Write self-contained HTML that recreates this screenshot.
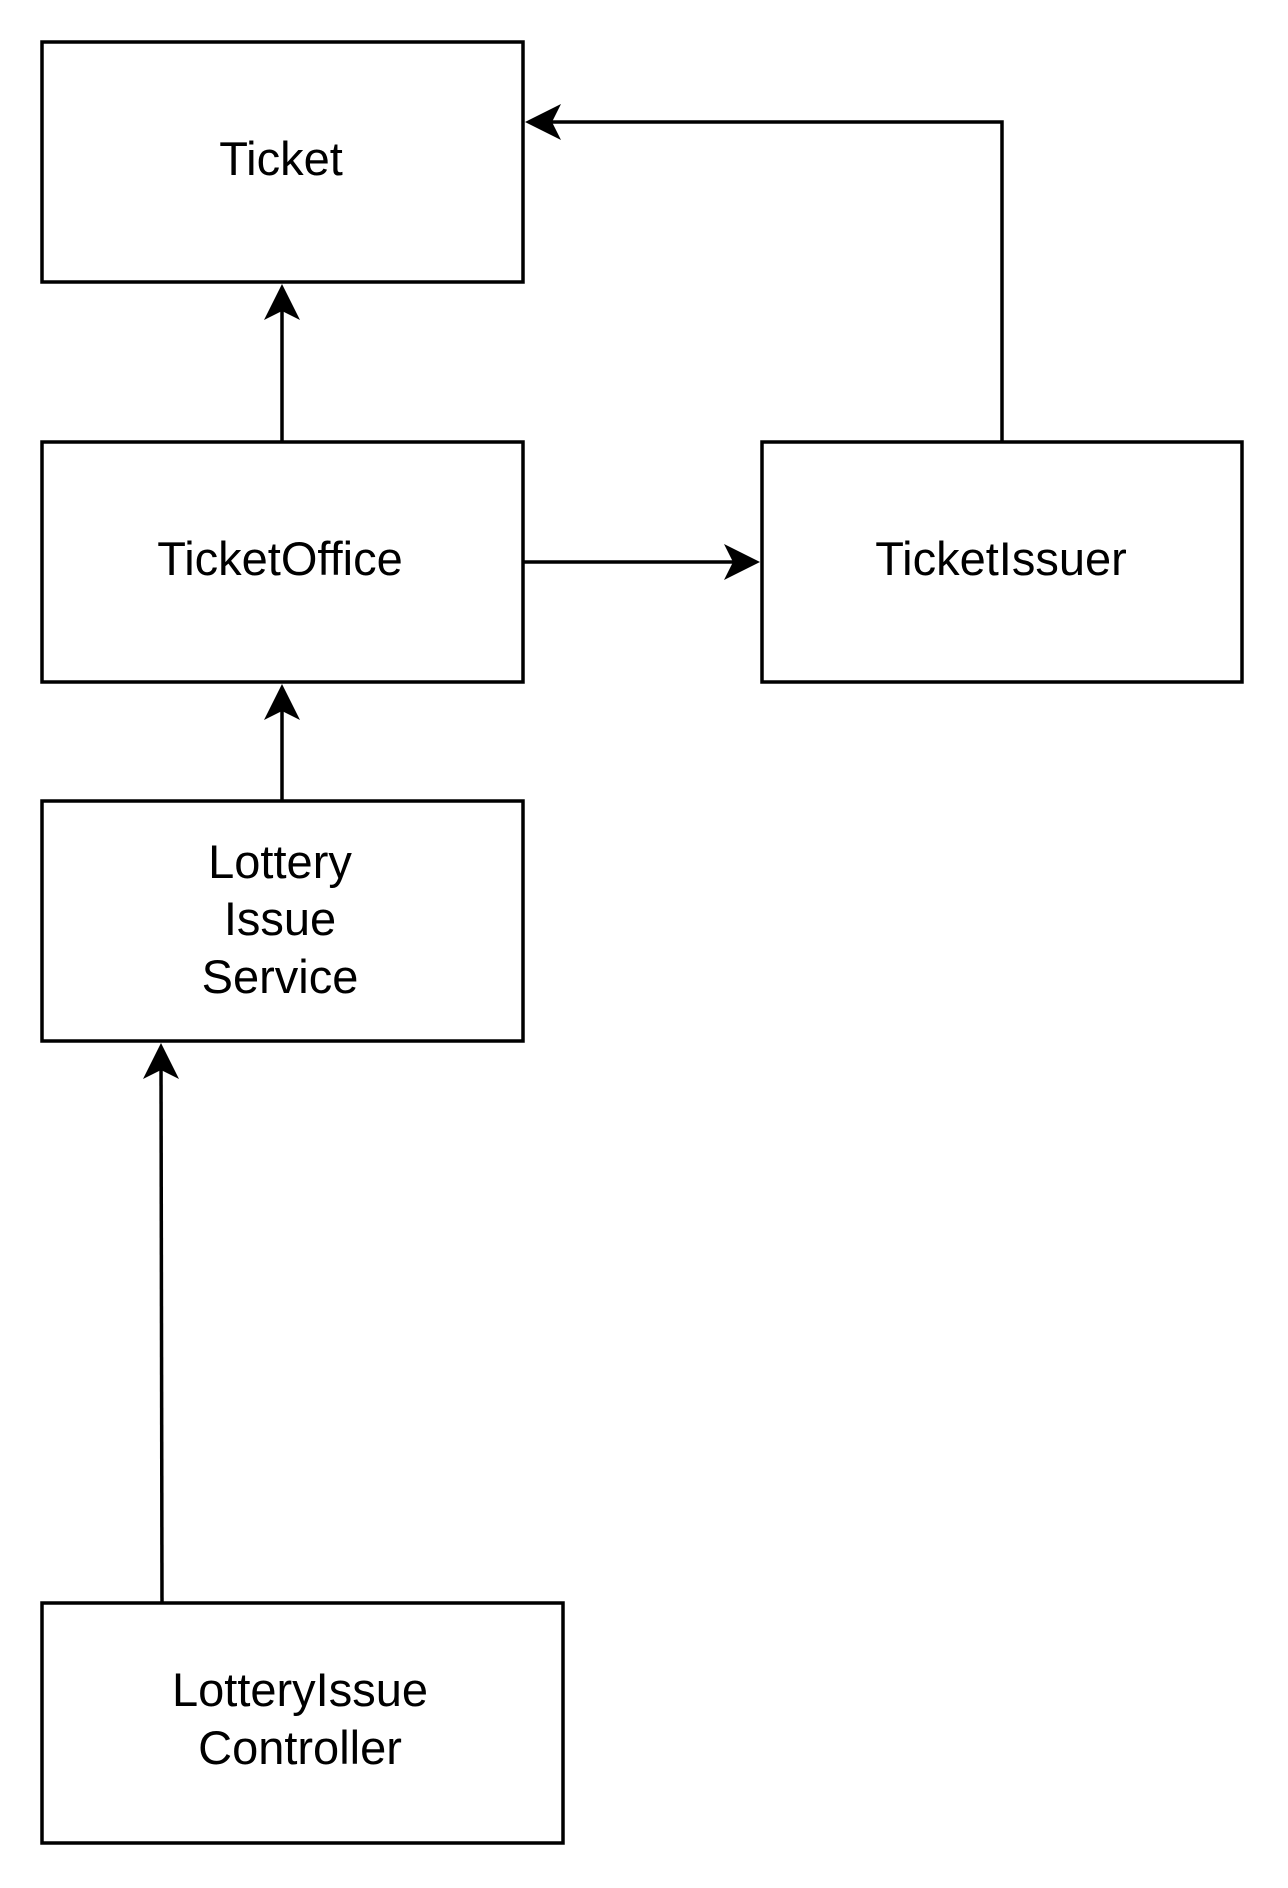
<!DOCTYPE html>
<html><head><meta charset="utf-8"><style>
html,body{margin:0;padding:0;background:#fff;}
svg{display:block;}
text{font-family:"Liberation Sans",Arial,sans-serif;font-size:47px;fill:#000;}
</style></head><body>
<svg width="1288" height="1888" viewBox="0 0 1288 1888" xmlns="http://www.w3.org/2000/svg">
<g fill="none" stroke="#000" stroke-width="3.5">
<rect x="42" y="42" width="481" height="240"/>
<rect x="42" y="442" width="481" height="240"/>
<rect x="762" y="442" width="480" height="240"/>
<rect x="42" y="801" width="481" height="240"/>
<rect x="42" y="1603" width="521" height="240"/>
<line x1="282" y1="442" x2="282" y2="300"/>
<polyline points="1002,442 1002,122 541,122"/>
<line x1="523" y1="562" x2="744" y2="562"/>
<line x1="282" y1="801" x2="282" y2="700"/>
<line x1="162" y1="1603" x2="161" y2="1059"/>
</g>
<g fill="#000">
<path d="M282,284 L300,320 L282,311 L264,320 Z"/>
<path d="M525,122 L561,104 L552,122 L561,140 Z"/>
<path d="M760,562 L724,544 L733,562 L724,580 Z"/>
<path d="M282,684 L300,720 L282,711 L264,720 Z"/>
<path d="M161,1043 L179,1079 L161,1070 L143,1079 Z"/>
</g>
<g text-anchor="middle">
<text x="281" y="175">Ticket</text>
<text x="280" y="575">TicketOffice</text>
<text x="1001" y="575">TicketIssuer</text>
<text x="280" y="878">Lottery</text>
<text x="280" y="935">Issue</text>
<text x="280" y="993">Service</text>
<text x="300" y="1706">LotteryIssue</text>
<text x="300" y="1764">Controller</text>
</g>
</svg>
</body></html>
